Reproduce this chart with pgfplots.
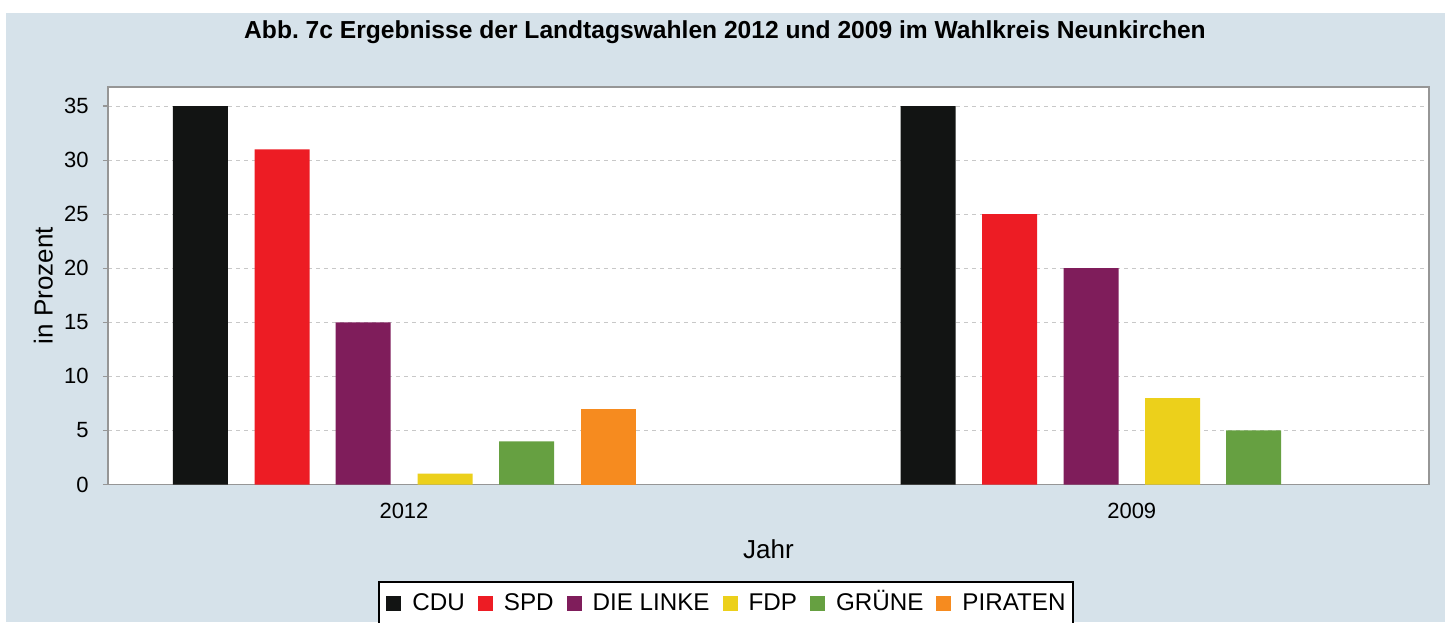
\documentclass[border=0pt]{standalone}
\usepackage{pgfplots}
\pgfplotsset{compat=1.18}
\usepackage{fontspec}
\setmainfont{Liberation Sans}
\definecolor{bg}{RGB}{214,226,234}
\definecolor{cdu}{RGB}{18,20,19}
\definecolor{spd}{RGB}{237,28,36}
\definecolor{linke}{RGB}{127,29,91}
\definecolor{fdp}{RGB}{236,208,27}
\definecolor{gruene}{RGB}{102,160,65}
\definecolor{piraten}{RGB}{246,139,31}
\definecolor{gridc}{RGB}{200,200,200}
\definecolor{framec}{RGB}{150,150,150}
\begin{document}
\begin{tikzpicture}
\useasboundingbox (0,0) rectangle (725pt,-311pt);
\fill[white] (0,0) rectangle (725pt,-311pt);
\fill[bg] (3pt,-6.5pt) rectangle (722.5pt,-311pt);
\begin{axis}[
  at={(54pt,-242.25pt)}, anchor=south west,
  scale only axis, width=660.5pt, height=198.75pt,
  xmin=108, xmax=1429, ymin=0, ymax=36.76,
  axis background/.style={fill=white},
  axis line style={draw=framec, line width=0.75pt},
  ymajorgrids=true,
  major grid style={dash pattern=on 2pt off 2pt, draw=gridc, line width=0.5pt},
  ytick={0,5,10,15,20,25,30,35},
  xtick={404,1131.75}, xticklabels={2012,2009},
  tick align=outside, major tick length=2.5pt,
  ytick pos=left, xtick pos=bottom,
  xtick style={draw=none},
  ytick style={draw=framec, line width=0.6pt},
  /pgf/number format/assume math mode=true,
  tick label style={font=\fontsize{11}{13}\selectfont},
  yticklabel style={anchor=east, inner sep=0pt, xshift=-7pt},
  xticklabel style={anchor=base, yshift=-14.25pt},
  every axis title shift=0pt,
  title={Abb.\ 7c Ergebnisse der Landtagswahlen 2012 und 2009 im Wahlkreis Neunkirchen},
  title style={at={(axis description cs:0.46707,1.1225)}, anchor=base, inner sep=0pt, font=\bfseries\fontsize{12.3}{14}\selectfont},
  xlabel={Jahr},
  xlabel style={at={(axis description cs:0.5,-0.1849)}, anchor=base, inner sep=0pt, font=\fontsize{13}{15}\selectfont},
  ylabel={in Prozent},
  ylabel style={at={(axis description cs:-0.04201,0.5)}, anchor=base, inner sep=0pt, rotate=0, font=\fontsize{13}{15}\selectfont},
  legend columns=-1,
  legend style={at={(axis description cs:0.4678,-0.2428)}, anchor=north,
    draw=black, line width=1pt, fill=white, inner xsep=3.8pt, inner ysep=7pt,
    font=\fontsize{12.1}{14}\selectfont,
    nodes={inner sep=0pt, text height=0.72em, text depth=0pt},
    cells={anchor=center},
    /tikz/every odd column/.style={column sep=5.5pt},
    /tikz/every even column/.style={column sep=6.5pt}},
]
\addplot[ybar, bar width=55, bar shift=0pt, fill=cdu, draw=none,
  legend image code/.code={\fill[cdu] (0pt,-3.75pt) rectangle (7.5pt,3.75pt);}]
  coordinates {(200.3,35) (928,35)};
\addlegendentry{CDU}
\addplot[ybar, bar width=55, bar shift=0pt, fill=spd, draw=none,
  legend image code/.code={\fill[spd] (0pt,-3.75pt) rectangle (7.5pt,3.75pt);}]
  coordinates {(282,31) (1009.5,25)};
\addlegendentry{SPD}
\addplot[ybar, bar width=55, bar shift=0pt, fill=linke, draw=none,
  legend image code/.code={\fill[linke] (0pt,-3.75pt) rectangle (7.5pt,3.75pt);}]
  coordinates {(363,15) (1091,20)};
\addlegendentry{DIE LINKE}
\addplot[ybar, bar width=55, bar shift=0pt, fill=fdp, draw=none,
  legend image code/.code={\fill[fdp] (0pt,-3.75pt) rectangle (7.5pt,3.75pt);}]
  coordinates {(445,1) (1172.5,8)};
\addlegendentry{FDP}
\addplot[ybar, bar width=55, bar shift=0pt, fill=gruene, draw=none,
  legend image code/.code={\fill[gruene] (0pt,-3.75pt) rectangle (7.5pt,3.75pt);}]
  coordinates {(526.5,4) (1253.5,5)};
\addlegendentry{GRÜNE}
\addplot[ybar, bar width=55, bar shift=0pt, fill=piraten, draw=none,
  legend image code/.code={\fill[piraten] (0pt,-3.75pt) rectangle (7.5pt,3.75pt);}]
  coordinates {(608,7)};
\addlegendentry{PIRATEN}
\end{axis}
\end{tikzpicture}
\end{document}
